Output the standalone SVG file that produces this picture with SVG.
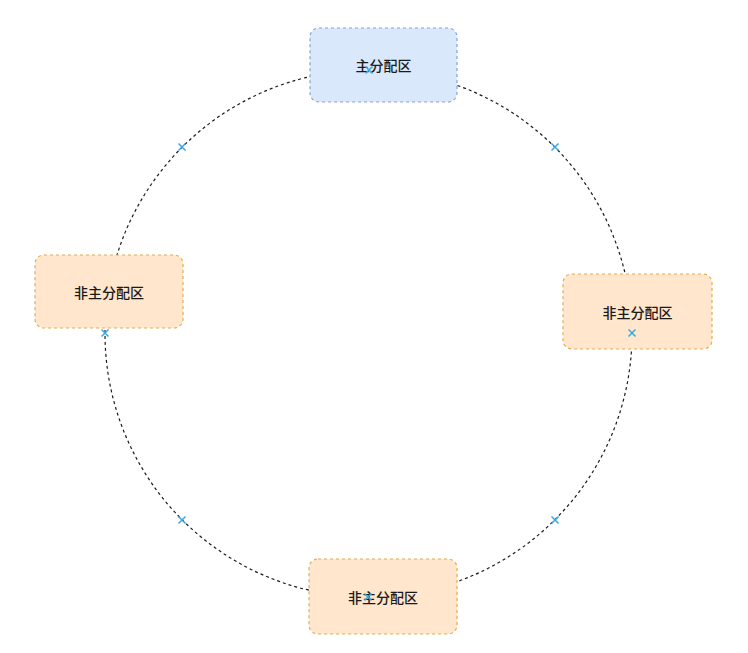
<svg xmlns="http://www.w3.org/2000/svg" width="748" height="653" viewBox="0 0 748 653">
<style>
.box{stroke-width:1.2;stroke-dasharray:3 3}
.main{fill:#dae8fc;stroke:#8aa3cc}
.sub{fill:#ffe6cc;stroke:#e0ad55}
.lbl{font-family:"Noto Sans CJK SC","Noto Sans",sans-serif;font-size:14px;font-weight:500;fill:#1a1a1a;text-anchor:middle;dominant-baseline:central}
.x{stroke:#3aa8e0;stroke-width:1.5;fill:none}
</style>
<defs>
<path id="xm" class="x" d="M-3.5,-3.5 L3.5,3.5 M-3.5,3.5 L3.5,-3.5"/>
</defs>
<rect width="748" height="653" fill="#ffffff"/>
<g id="connectors">
<circle cx="368.5" cy="333.5" r="263.5" fill="none" stroke="#1a1a1a" stroke-width="1.2" stroke-dasharray="3 3"/>
</g>
<g id="node-top">
<rect class="box main" x="310" y="28" width="147" height="74" rx="9"/>
<text class="lbl" x="383.5" y="65">主分配区</text>
</g>
<g id="node-left">
<rect class="box sub" x="35" y="255" width="148" height="73" rx="9"/>
<text class="lbl" x="109" y="292">非主分配区</text>
</g>
<g id="node-right">
<rect class="box sub" x="563" y="274" width="149" height="75" rx="9"/>
<text class="lbl" x="637.5" y="311.5">非主分配区</text>
</g>
<g id="node-bottom">
<rect class="box sub" x="309" y="559" width="148" height="75" rx="9"/>
<text class="lbl" x="383" y="596.5">非主分配区</text>
</g>
<g id="points">
<use href="#xm" x="369" y="70"/>
<use href="#xm" x="105" y="333"/>
<use href="#xm" x="632" y="333"/>
<use href="#xm" x="368" y="597"/>
<use href="#xm" x="182" y="147"/>
<use href="#xm" x="555" y="147"/>
<use href="#xm" x="182" y="520"/>
<use href="#xm" x="555" y="520"/>
</g>
</svg>
